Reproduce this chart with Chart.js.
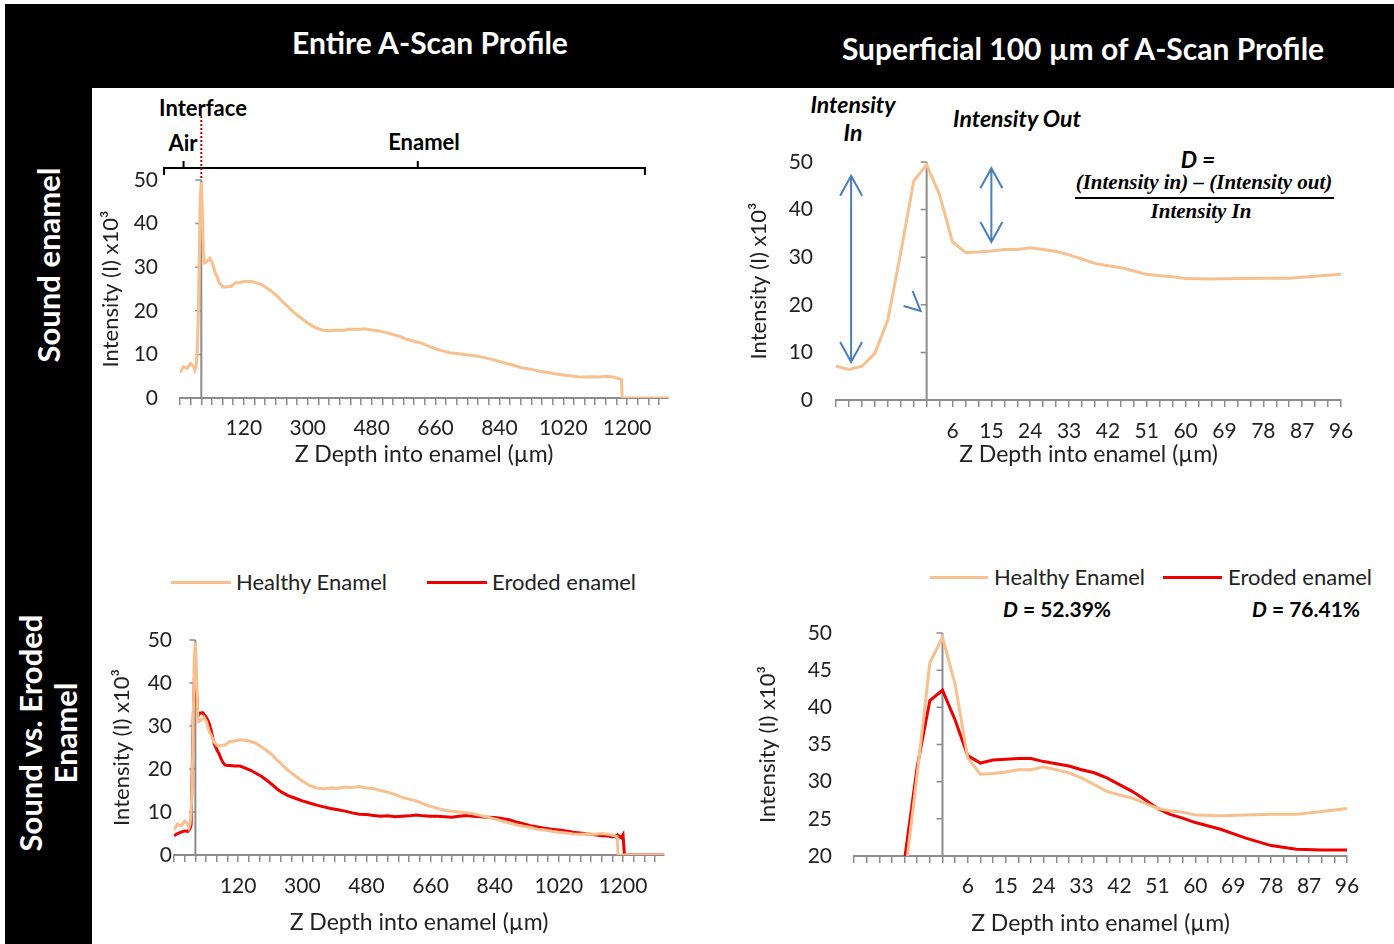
<!DOCTYPE html>
<html>
<head>
<meta charset="utf-8">
<script src="https://cdn.jsdelivr.net/npm/chart.js@4.4.1/dist/chart.umd.min.js"></script>
<style>
  body { margin: 0; width: 1394px; height: 944px; background: #fff; position: relative; overflow: hidden; font-family: Lato, "Open Sans", sans-serif; }
  .band { position: absolute; background: #000; }
  .txt { position: absolute; transform: translate(-50%, -50%); white-space: nowrap; line-height: 1; }
  .hdr { color: #fff; font-weight: bold; font-size: 30px; }
  .side { color: #fff; font-weight: bold; font-size: 31px; transform: translate(-50%, -50%) rotate(-90deg); }
  .lbl { font-weight: bold; font-size: 22px; color: #000; }
  .bi { font-weight: bold; font-style: italic; font-size: 23px; color: #000; }
  .serif { font-family: "Liberation Serif", "DejaVu Serif", serif; font-weight: bold; font-style: italic; font-size: 21px; }
  .legtxt { position: absolute; transform: translateY(-50%); font-size: 22px; color: #222; white-space: nowrap; line-height: 1; }
  .legline { position: absolute; height: 3px; }
  canvas { position: absolute; }
</style>
</head>
<body>
<div class="band" style="left:5px; top:4px; width:1389px; height:84px;"></div>
<div class="band" style="left:5px; top:4px; width:87px; height:940px;"></div>

<div class="txt hdr" style="left:430px; top:42px;">Entire A-Scan Profile</div>
<div class="txt hdr" style="left:1083px; top:48px;">Superficial 100 µm of A-Scan Profile</div>
<div class="txt side" style="left:48px; top:265px;">Sound enamel</div>
<div class="txt side" style="left:30px; top:733px;">Sound vs. Eroded</div>
<div class="txt side" style="left:65px; top:733px;">Enamel</div>

<div class="txt lbl" style="left:203px; top:108px;">Interface</div>
<div class="txt lbl" style="left:183px; top:143px;">Air</div>
<div class="txt lbl" style="left:424px; top:142px;">Enamel</div>

<div class="txt bi" style="left:853px; top:104px;">Intensity</div>
<div class="txt bi" style="left:853px; top:132px;">In</div>
<div class="txt bi" style="left:1017px; top:118px;">Intensity Out</div>
<div class="txt bi" style="left:1198px; top:159px;">D =</div>
<div class="txt serif" style="left:1204px; top:182px;">(Intensity in) – (Intensity out)</div>
<div style="position:absolute; left:1075px; top:197px; width:259px; height:2px; background:#000;"></div>
<div class="txt serif" style="left:1201px; top:211px;">Intensity In</div>

<div class="legline" style="left:171px; top:581px; width:60px; background:#f8c08e;"></div>
<div class="legtxt" style="left:236px; top:582px;">Healthy Enamel</div>
<div class="legline" style="left:427px; top:581px; width:60px; background:#ee0000;"></div>
<div class="legtxt" style="left:492px; top:582px;">Eroded enamel</div>

<div class="legline" style="left:930px; top:576px; width:58px; background:#f8c08e;"></div>
<div class="legtxt" style="left:994px; top:577px;">Healthy Enamel</div>
<div class="legline" style="left:1163px; top:576px; width:59px; background:#ee0000;"></div>
<div class="legtxt" style="left:1228px; top:577px;">Eroded enamel</div>
<div class="txt lbl" style="left:1057px; top:608px; font-size:21px;"><i>D</i> = 52.39%</div>
<div class="txt lbl" style="left:1306px; top:608px; font-size:21px;"><i>D</i> = 76.41%</div>

<canvas id="tl" width="600" height="378" style="left:92px; top:92px;"></canvas>
<canvas id="tr" width="654" height="378" style="left:740px; top:92px;"></canvas>
<canvas id="bl" width="600" height="384" style="left:92px; top:560px;"></canvas>
<canvas id="br" width="654" height="384" style="left:740px; top:560px;"></canvas>

<script>
// depth into enamel (µm), negative = air side of the interface
const depth = [-60, -50, -40, -30, -21, -18, -15, -12, -9, -6, -3, 0, 3, 6, 9, 12, 15, 18, 21, 24, 27, 30,
  33, 36, 39, 42, 45, 48, 51, 54, 57, 60, 66, 72, 78, 84, 90, 96, 110, 125, 140, 155, 170, 185, 200,
  215, 230, 245, 260, 280, 300, 320, 340, 360, 380, 400, 420, 440, 460, 480, 500, 520, 540, 560, 580,
  600, 620, 640, 660, 680, 700, 720, 740, 760, 780, 800, 820, 840, 860, 880, 900, 920, 940, 960, 980,
  1000, 1020, 1040, 1060, 1080, 1100, 1120, 1140, 1160, 1170, 1180, 1184, 1186, 1195, 1200, 1204,
  1240, 1280, 1315];

// intensity x10^3
const healthy = [5.8, 7.2, 6.8, 7.9, 7.1, 6.4, 7.1, 9.8, 16.8, 31.0, 46.0, 49.4, 43.1, 33.2, 31.0, 31.1,
  31.3, 31.6, 31.6, 32.0, 31.6, 31.2, 30.5, 29.6, 28.7, 28.2, 27.8, 27.1, 26.4, 26.1, 25.9, 25.5, 25.4,
  25.5, 25.6, 25.6, 26.0, 26.4, 26.5, 26.8, 26.7, 26.4, 26.0, 25.2, 24.3, 23.3, 22.0, 20.9, 19.7, 18.4,
  17.2, 16.2, 15.6, 15.4, 15.6, 15.5, 15.8, 15.7, 15.9, 15.6, 15.4, 15.0, 14.6, 14.1, 13.4, 13.0, 12.6,
  11.9, 11.3, 10.8, 10.4, 10.2, 10.0, 9.8, 9.6, 9.2, 8.8, 8.4, 7.9, 7.5, 7.0, 6.7, 6.4, 6.0, 5.8, 5.5,
  5.3, 5.1, 4.9, 4.8, 4.9, 4.8, 5.0, 4.8, 4.6, 4.4, 4.2, 0, 0, 0, 0, 0, 0, 0];

const eroded = [4.5, 5.0, 5.3, 5.6, 5.5, 5.8, 6.2, 7.0, 19.5, 32.0, 40.9, 42.3, 38.3, 33.5, 32.5, 32.9,
  33.0, 33.1, 33.1, 32.7, 32.4, 32.1, 31.6, 31.2, 30.5, 29.6, 28.7, 27.6, 26.4, 25.6, 25.1, 24.5, 23.6,
  22.4, 21.4, 20.9, 20.8, 20.8, 20.7, 20.7, 20.2, 19.7, 19.0, 18.3, 17.4, 16.4, 15.3, 14.5, 13.8, 13.2,
  12.6, 12.1, 11.6, 11.2, 10.8, 10.5, 10.2, 9.8, 9.5, 9.4, 9.2, 9.0, 9.1, 8.9, 9.0, 9.1, 9.3, 9.1, 9.0,
  9.0, 8.9, 8.8, 9.0, 9.2, 9.0, 8.9, 8.8, 8.7, 8.5, 8.2, 7.7, 7.3, 6.8, 6.5, 6.2, 6.0, 5.8, 5.6, 5.3,
  5.1, 4.9, 4.7, 4.5, 4.4, 4.2, 4.5, 3.8, 4.6, 4.0, 4.7, 0, 0, 0, 0];

const fullTickLabels = [120, 300, 480, 660, 840, 1020, 1200];
const supTickLabels = [6, 15, 24, 33, 42, 51, 60, 69, 78, 87, 96];

const ORANGE = '#f8c08e';
const RED = '#ee0000';
const AXIS = '#8c8c8c';
const FONT = 'Lato, "Open Sans", sans-serif';

function points(vals) {
  return vals.map((v, i) => ({ x: depth[i], y: v }));
}

function lineSet(label, vals, color) {
  return { label: label, data: points(vals), borderColor: color, backgroundColor: color,
    borderWidth: 3, pointRadius: 0, tension: 0 };
}

// vertical axis crossing at depth 0, with its tick marks
const crossAxis = {
  id: 'crossAxis',
  beforeDatasetsDraw(chart) {
    const { ctx, chartArea, scales: { x, y } } = chart;
    const x0 = x.getPixelForValue(0);
    ctx.save();
    ctx.strokeStyle = AXIS;
    ctx.lineWidth = 2;
    ctx.beginPath();
    ctx.moveTo(x0, chartArea.bottom);
    ctx.lineTo(x0, chartArea.top);
    ctx.stroke();
    ctx.lineWidth = 1.5;
    ctx.beginPath();
    y.ticks.forEach(t => {
      const py = y.getPixelForValue(t.value);
      if (py < chartArea.bottom - 1) {
        ctx.moveTo(x0 - 6, py);
        ctx.lineTo(x0, py);
      }
    });
    ctx.stroke();
    ctx.restore();
  }
};

const interfaceMarks = {
  id: 'interfaceMarks',
  afterDraw(chart) {
    const { ctx, chartArea, scales: { x } } = chart;
    const by = chartArea.top - 12;
    const px = v => x.getPixelForValue(v);
    ctx.save();
    ctx.strokeStyle = '#000';
    ctx.lineWidth = 2;
    ctx.beginPath();
    ctx.moveTo(px(-105), by + 7); ctx.lineTo(px(-105), by);
    ctx.lineTo(px(1250), by); ctx.lineTo(px(1250), by + 7);
    ctx.moveTo(px(-50), by); ctx.lineTo(px(-50), by - 7);
    ctx.moveTo(px(610), by); ctx.lineTo(px(610), by - 7);
    ctx.stroke();
    ctx.strokeStyle = '#c00000';
    ctx.setLineDash([2, 2]);
    ctx.beginPath();
    ctx.moveTo(px(0), chartArea.top - 64);
    ctx.lineTo(px(0), chartArea.top);
    ctx.stroke();
    ctx.restore();
  }
};

function head(ctx, x, y, dir) {
  ctx.moveTo(x - 11, y - dir * 20);
  ctx.lineTo(x, y);
  ctx.lineTo(x + 11, y - dir * 20);
}

const arrows = {
  id: 'arrows',
  afterDraw(chart) {
    const { ctx, scales: { x, y } } = chart;
    ctx.save();
    ctx.strokeStyle = '#4a7ebb';
    ctx.lineWidth = 2;
    ctx.beginPath();
    [[-17.5, 47.1, 8.0], [15, 48.7, 33.2]].forEach(a => {
      const ax = x.getPixelForValue(a[0]);
      const y1 = y.getPixelForValue(a[1]);
      const y2 = y.getPixelForValue(a[2]);
      ctx.moveTo(ax, y1); ctx.lineTo(ax, y2);
      head(ctx, ax, y1, -1);
      head(ctx, ax, y2, 1);
    });
    const tx = x.getPixelForValue(-1.4), ty = y.getPixelForValue(18.7);
    ctx.moveTo(tx - 8, ty - 20); ctx.lineTo(tx, ty); ctx.lineTo(tx - 17, ty - 5);
    ctx.stroke();
    ctx.restore();
  }
};

function makeChart(id, o) {
  new Chart(document.getElementById(id), {
    type: 'line',
    data: { datasets: o.sets },
    options: {
      responsive: false,
      animation: false,
      layout: { padding: { top: o.padTop, right: o.padRight, left: 0, bottom: 0 } },
      plugins: { legend: { display: false }, tooltip: { enabled: false } },
      scales: {
        x: {
          type: 'linear',
          min: o.xmin, max: o.xmax,
          afterFit: s => { s.height = o.xh; },
          border: { color: AXIS, width: 2 },
          grid: { drawOnChartArea: false, drawTicks: true, tickLength: 7, color: AXIS, lineWidth: 1.5 },
          ticks: {
            stepSize: o.xstep, includeBounds: false, autoSkip: false, maxRotation: 0,
            padding: o.xpad, color: '#222', font: { family: FONT, size: 21 },
            callback: v => o.labels.includes(Math.round(v)) ? String(Math.round(v)) : ''
          },
          title: { display: true, text: 'Z Depth into enamel (µm)', color: '#222',
            font: { family: FONT, size: 23 }, padding: { top: 0, bottom: o.xtitlePad } }
        },
        y: {
          min: o.ymin, max: o.ymax,
          afterFit: s => { s.width = o.yw; },
          border: { display: false },
          grid: { display: false, drawTicks: false },
          ticks: { stepSize: o.ystep, padding: o.ypad, color: '#222', font: { family: FONT, size: 21 } },
          title: { display: true, text: 'Intensity (I) x10³', color: '#222',
            font: { family: FONT, size: 22 }, padding: { top: o.ytitlePad, bottom: 0 } }
        }
      }
    },
    plugins: o.plugins
  });
}

makeChart('tl', {
  sets: [lineSet('Healthy Enamel', healthy, ORANGE)],
  xmin: -60, xmax: 1315, xstep: 30, labels: fullTickLabels,
  ymin: 0, ymax: 50, ystep: 10,
  padTop: 88, padRight: 24, yw: 88, xh: 72,
  xpad: 11, xtitlePad: 2, ypad: 22, ytitlePad: 6,
  plugins: [crossAxis, interfaceMarks]
});

makeChart('tr', {
  sets: [lineSet('Healthy Enamel', healthy, ORANGE)],
  xmin: -21, xmax: 96, xstep: 3, labels: supTickLabels,
  ymin: 0, ymax: 50, ystep: 10,
  padTop: 70, padRight: 53, yw: 96, xh: 70,
  xpad: 12, xtitlePad: 2, ypad: 23, ytitlePad: 6,
  plugins: [crossAxis, arrows]
});

makeChart('bl', {
  sets: [lineSet('Healthy Enamel', healthy, ORANGE), lineSet('Eroded enamel', eroded, RED)],
  xmin: -60, xmax: 1315, xstep: 30, labels: fullTickLabels,
  ymin: 0, ymax: 50, ystep: 10,
  padTop: 80, padRight: 28, yw: 82, xh: 89,
  xpad: 12, xtitlePad: 8, ypad: 2, ytitlePad: 17,
  plugins: [crossAxis]
});

makeChart('br', {
  sets: [lineSet('Healthy Enamel', healthy, ORANGE), lineSet('Eroded enamel', eroded, RED)],
  xmin: -21, xmax: 96, xstep: 3, labels: supTickLabels,
  ymin: 20, ymax: 50, ystep: 5,
  padTop: 73, padRight: 47, yw: 114, xh: 88,
  xpad: 11, xtitlePad: 7, ypad: 22, ytitlePad: 15,
  plugins: [crossAxis]
});
</script>
</body>
</html>
